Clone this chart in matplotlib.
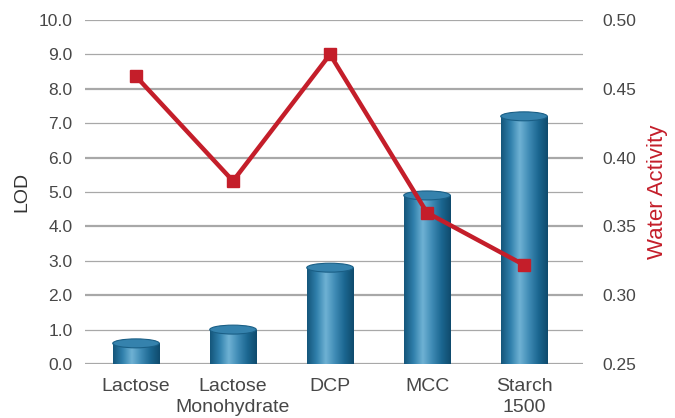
import matplotlib
matplotlib.use("Agg")
import matplotlib.pyplot as plt
import numpy as np
from matplotlib.patches import Ellipse
from matplotlib.colors import LinearSegmentedColormap

plt.rcParams['font.family'] = ['Liberation Sans', 'DejaVu Sans']

categories = ["Lactose", "Lactose\nMonohydrate", "DCP", "MCC", "Starch\n1500"]
lod = [0.6, 1.0, 2.8, 4.9, 7.2]
water_activity = [0.459, 0.383, 0.475, 0.360, 0.322]
lod_ticks = [0, 1, 2, 3, 4, 5, 6, 7, 8, 9, 10]
wa_ticks = [0.25, 0.30, 0.35, 0.40, 0.45, 0.50]

fig = plt.figure(figsize=(6.75, 4.18), dpi=100)
ax = fig.add_axes([85/675, 1-364/418, (583-85)/675, (364-20)/418])
x = np.arange(len(categories))
bar_w = 0.48

ax.set_xlim(-0.526, 4.608)
ax.set_ylim(0, 10)
ax.set_yticks(lod_ticks)
ax.set_yticklabels([f"{v:.1f}" for v in lod_ticks])
for s in ax.spines.values():
    s.set_visible(False)
ax.tick_params(axis='y', length=0, pad=9, labelsize=12.5, labelcolor='#474747')
ax.tick_params(axis='x', length=0, pad=10, labelsize=14, labelcolor='#474747')
ax.set_xticks(x)
ax.set_xticklabels(categories, linespacing=1.32)
ax.yaxis.grid(True, color='#a8a8a8')
ax.set_axisbelow(True)
for i, gl in enumerate(ax.get_ygridlines()):
    gl.set_linewidth(1.6 if i % 2 == 0 else 0.9)
ax.set_ylabel("LOD", fontsize=14, color='#333333', labelpad=6)

cmap = LinearSegmentedColormap.from_list(
    "cyl", ["#14557a", "#2f7fab", "#6fb2d4", "#3f8bb5", "#1b6690", "#0f4a6c"])
grad = np.linspace(0, 1, 256).reshape(1, -1)
bars = ax.bar(x, lod, width=bar_w, color='none', edgecolor='none', zorder=2)
eh = 0.26
for b in bars:
    x0, w, h = b.get_x(), b.get_width(), b.get_height()
    im = ax.imshow(grad, cmap=cmap, extent=[x0, x0 + w, 0, h], aspect='auto',
                   zorder=2, interpolation='bicubic')
    im.set_clip_path(b)
    ax.add_patch(Ellipse((x0 + w/2, h), w, eh, facecolor='#3582ad',
                         edgecolor='#1a5f86', linewidth=0.8, zorder=3))
ax.set_xlim(-0.526, 4.608)
ax.set_ylim(0, 10)

ax2 = ax.twinx()
ax2.set_ylim(0.25, 0.50)
ax2.set_yticks(wa_ticks)
ax2.set_yticklabels([f"{v:.2f}" for v in wa_ticks])
for s in ax2.spines.values():
    s.set_visible(False)
ax2.tick_params(axis='y', length=0, pad=14, labelsize=12.5, labelcolor='#474747')
ax2.plot(x, water_activity, color='#c41e2a', linewidth=3.2, marker='s',
         markersize=8, markerfacecolor='#c41e2a', markeredgecolor='#c41e2a', zorder=5)
ax2.set_ylabel("Water Activity", fontsize=16, color='#c41e2a', labelpad=8)

fig.savefig("out.png", dpi=100)
